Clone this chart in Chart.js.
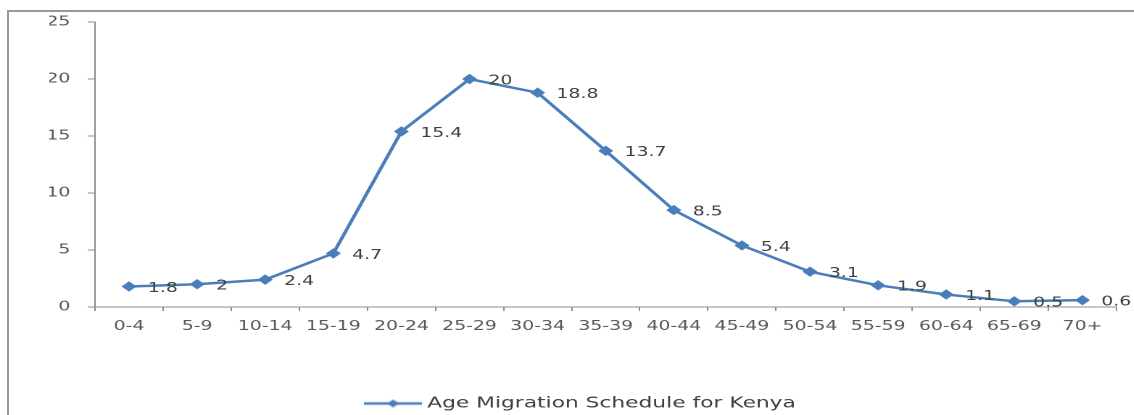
<!DOCTYPE html>
<html><head><meta charset="utf-8">
<script src="https://cdn.jsdelivr.net/npm/chart.js@4"></script>
<style>
html,body{margin:0;padding:0;background:#fff;overflow:hidden;width:1134px;height:415px;position:relative;}
#frame{position:absolute;left:7px;top:10px;width:1140px;height:420px;border-left:2px solid #9a9a9a;border-top:2px solid #9a9a9a;}
#wrap{position:absolute;left:0;top:0;width:782px;height:421px;transform:scaleX(1.45);transform-origin:0 0;}
</style></head><body>
<div id="frame"></div>
<div id="wrap"><canvas id="c"></canvas></div>
<script>
const categories = ['0-4','5-9','10-14','15-19','20-24','25-29','30-34','35-39','40-44','45-49','50-54','55-59','60-64','65-69','70+'];
const migrationValues = [1.8, 2, 2.4, 4.7, 15.4, 20, 18.8, 13.7, 8.5, 5.4, 3.1, 1.9, 1.1, 0.5, 0.6];
const yTickValues = [0, 5, 10, 15, 20, 25];
const seriesName = 'Age Migration Schedule for Kenya';

const BLUE = '#4a7ebb';
const FONT = 'DejaVu Sans';

// legend sample: line with diamond
const legendImg = document.createElement('canvas');
legendImg.width = 40; legendImg.height = 12;
(function(){
  const g = legendImg.getContext('2d');
  g.strokeStyle = BLUE; g.lineWidth = 2.5;
  g.beginPath(); g.moveTo(0,6); g.lineTo(40,6); g.stroke();
  g.fillStyle = BLUE;
  g.beginPath(); g.moveTo(20-4,6); g.lineTo(20,2); g.lineTo(24,6); g.lineTo(20,10); g.closePath(); g.fill();
})();

const valueLabels = {
  id: 'valueLabels',
  afterDatasetsDraw(chart) {
    const ctx = chart.ctx;
    const meta = chart.getDatasetMeta(0);
    const data = chart.data.datasets[0].data;
    ctx.save();
    ctx.font = '13px "' + FONT + '"';
    ctx.fillStyle = '#404040';
    ctx.textAlign = 'left';
    ctx.textBaseline = 'middle';
    meta.data.forEach((pt, i) => {
      ctx.fillText(String(data[i]), pt.x + 13, pt.y + 2);
    });
    ctx.restore();
  }
};

new Chart(document.getElementById('c'), {
  type: 'line',
  data: {
    labels: categories,
    datasets: [{
      label: seriesName,
      data: migrationValues,
      borderColor: BLUE,
      backgroundColor: BLUE,
      borderWidth: 2.5,
      pointStyle: 'rectRot',
      pointRadius: 4.5,
      pointBorderWidth: 1,
      pointBackgroundColor: BLUE,
      pointBorderColor: BLUE,
      tension: 0,
      fill: false
    }]
  },
  options: {
    responsive: true,
    maintainAspectRatio: false,
    devicePixelRatio: 2,
    animation: false,
    layout: { padding: { left: 34, right: 12, top: 22, bottom: 0 } },
    plugins: {
      tooltip: { enabled: false },
      legend: {
        position: 'bottom',
        align: 'center',
        labels: {
          usePointStyle: true,
          pointStyleWidth: 32,
          padding: 10,
          color: '#404040',
          font: { family: FONT, size: 15 },
          generateLabels(chart) {
            return [{ text: seriesName, pointStyle: legendImg, fillStyle: BLUE, strokeStyle: BLUE, lineWidth: 0, datasetIndex: 0, hidden: false, fontColor: '#404040' }];
          }
        }
      }
    },
    scales: {
      x: {
        type: 'category',
        offset: true,
        grid: { offset: true, drawOnChartArea: false, drawTicks: true, tickLength: 4, color: '#8c8c8c' },
        border: { display: true, color: '#8c8c8c', width: 1 },
        ticks: { color: '#595959', font: { family: FONT, size: 13 }, padding: 8, maxRotation: 0, autoSkip: false },
        afterFit(scale) { scale.height = 79; }
      },
      y: {
        min: 0, max: 25,
        afterBuildTicks(scale) { scale.ticks = yTickValues.map(v => ({ value: v })); },
        grid: { drawOnChartArea: false, drawTicks: true, tickLength: 5, color: '#8c8c8c' },
        border: { display: true, color: '#8c8c8c', width: 1 },
        ticks: { color: '#595959', font: { family: FONT, size: 13 }, padding: 12 },
        afterFit(scale) { scale.width = 31.5; }
      }
    }
  },
  plugins: [valueLabels]
});
</script>
</body></html>
